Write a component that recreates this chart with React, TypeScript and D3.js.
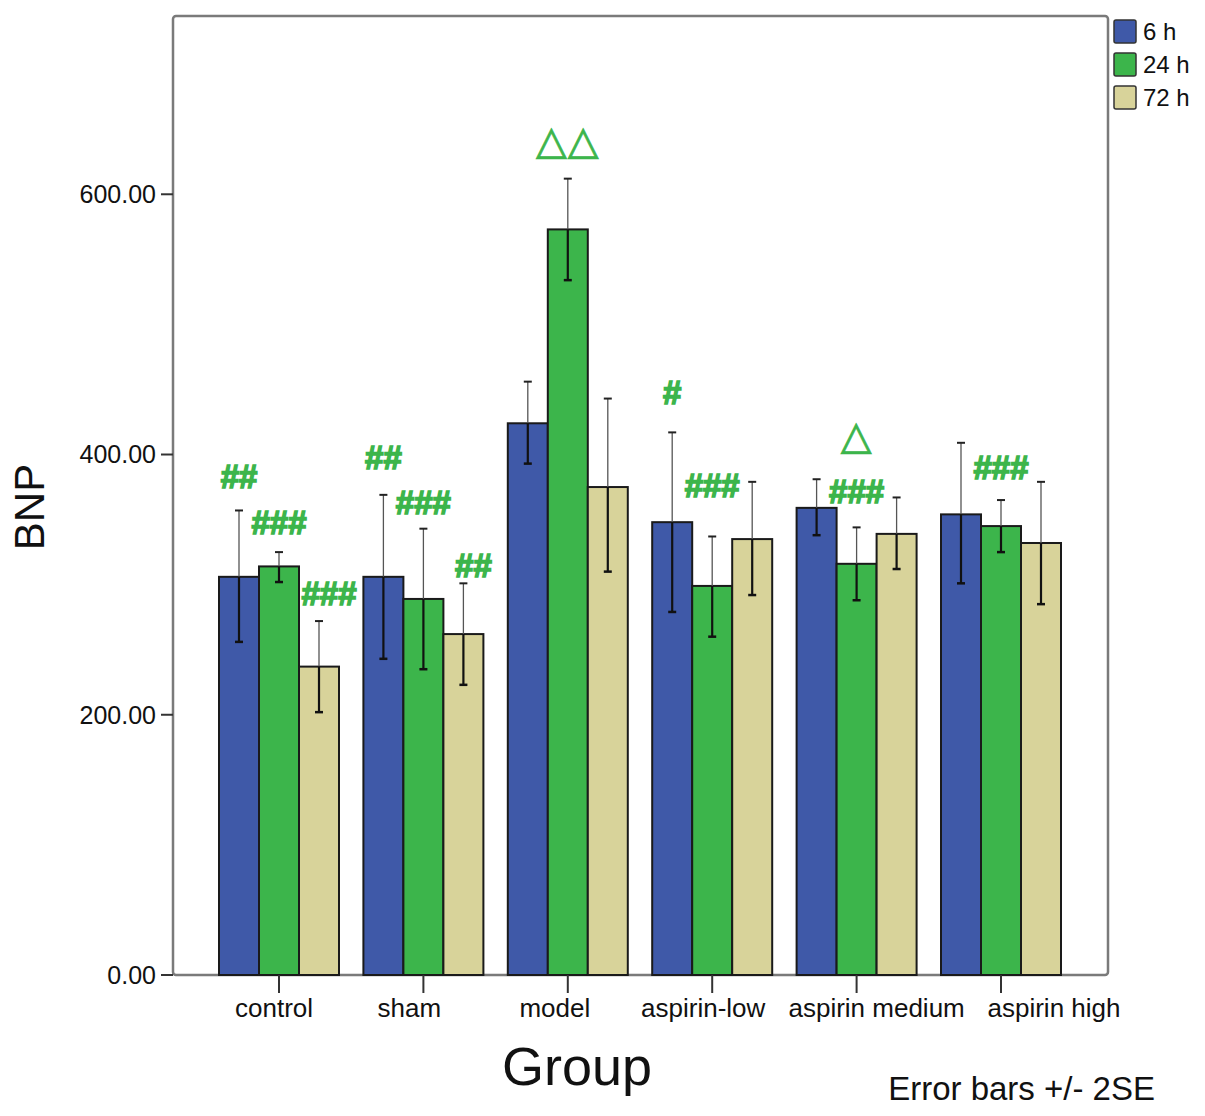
import React from "react";
import * as d3 from "d3";

const groups = ["control", "sham", "model", "aspirin-low", "aspirin medium", "aspirin high"];
const seriesNames = ["6 h", "24 h", "72 h"];
const seriesColors = ["#3f59a8", "#3cb54b", "#d8d39a"];

// mean, lower, upper for each group (6 h, 24 h, 72 h)
const mean6h = [306, 306, 424, 348, 359, 354];
const low6h = [256, 243, 393, 279, 338, 301];
const high6h = [357, 369, 456, 417, 381, 409];
const mean24h = [314, 289, 573, 299, 316, 345];
const low24h = [302, 235, 534, 260, 288, 325];
const high24h = [325, 343, 612, 337, 344, 365];
const mean72h = [237, 262, 375, 335, 339, 332];
const low72h = [202, 223, 310, 292, 312, 285];
const high72h = [272, 301, 443, 379, 367, 379];

const yTicks = [0, 200, 400, 600];

// significance marks: group, series, label, value at the label baseline
const marks = [
  {g: "control", s: 0, label: "##", v: 374},
  {g: "control", s: 1, label: "###", v: 339},
  {g: "control", s: 2, label: "###", v: 284},
  {g: "sham", s: 0, label: "##", v: 389},
  {g: "sham", s: 1, label: "###", v: 354},
  {g: "sham", s: 2, label: "##", v: 306},
  {g: "model", s: 1, label: "\u25b3\u25b3", v: 631},
  {g: "aspirin-low", s: 0, label: "#", v: 439},
  {g: "aspirin-low", s: 1, label: "###", v: 367},
  {g: "aspirin medium", s: 1, label: "\u25b3", v: 404},
  {g: "aspirin medium", s: 1, label: "###", v: 363},
  {g: "aspirin high", s: 1, label: "###", v: 381},
];

const App: React.FC = () => {
  const width = 1205;
  const height = 1116;
  const left = 173, top = 16, right = 1108, bottom = 975;
  const innerW = right - left;

  const means = [mean6h, mean24h, mean72h];
  const lows = [low6h, low24h, low72h];
  const highs = [high6h, high24h, high72h];

  const y = d3.scaleLinear().domain([0, 737]).range([bottom, top]);
  const x = d3.scalePoint<string>().domain(groups).range([left + 106, left + 828]);
  const barW = 40;
  const sx = d3.scaleBand<number>().domain([0, 1, 2]).range([-60, 60]);
  // category labels are nudged sideways so the long names do not collide
  const labelShift = [-5, -14, -13, -9, 20, 53];

  const font = "Liberation Sans, Arial, sans-serif";

  return (
    <svg width={width} height={height} style={{position: "absolute", left: 0, top: 0, background: "#fff"}}>
      {/* plot frame */}
      <rect x={left} y={top} width={innerW} height={bottom - top} rx={3} fill="#fff" stroke="#7a7a7a" strokeWidth={2.5}/>

      {/* bars */}
      {groups.map((g, gi) => (
        <g key={g}>
          {seriesNames.map((s, si) => {
            const x0 = x(g)! + sx(si)!;
            return (
              <rect key={s} x={x0} y={y(means[si][gi])} width={barW} height={bottom - y(means[si][gi])}
                    fill={seriesColors[si]} stroke="#1a1a1a" strokeWidth={2}/>
            );
          })}
        </g>
      ))}

      {/* error bars */}
      {groups.map((g, gi) => (
        <g key={g + "err"}>
          {seriesNames.map((s, si) => {
            const cx = x(g)! + sx(si)! + barW / 2;
            const yt = y(highs[si][gi]);
            const yb = y(lows[si][gi]);
            const ym = y(means[si][gi]);
            return (
              <g key={s}>
                <line x1={cx} x2={cx} y1={yt} y2={ym} stroke="#555" strokeWidth={1.3}/>
                <line x1={cx} x2={cx} y1={ym} y2={yb} stroke="#111" strokeWidth={2.2}/>
                <line x1={cx - 4} x2={cx + 4} y1={yt} y2={yt} stroke="#222" strokeWidth={2}/>
                <line x1={cx - 4} x2={cx + 4} y1={yb} y2={yb} stroke="#111" strokeWidth={2.5}/>
              </g>
            );
          })}
        </g>
      ))}

      {/* significance marks */}
      {marks.map((m, i) => {
        const isDelta = m.label.startsWith("\u25b3");
        const cx = x(m.g)! + sx(m.s)! + barW / 2 + (m.s === 2 ? 10 : 0);
        return isDelta ? (
          <text key={i} x={cx} y={y(m.v)} textAnchor="middle" fontFamily="DejaVu Sans"
                fontSize={40} fill="#3cb54b" stroke="#3cb54b" strokeWidth={0.8} letterSpacing={1}>
            {m.label}
          </text>
        ) : (
          <text key={i} x={cx} y={y(m.v)} textAnchor="middle" fontFamily={font}
                fontSize={33} fontWeight="bold" fill="#3cb54b" stroke="#3cb54b" strokeWidth={1.5}
                letterSpacing={0}>
            {m.label}
          </text>
        );
      })}

      {/* y axis */}
      {yTicks.map(t => (
        <g key={t} transform={`translate(${left}, ${y(t)})`}>
          <line x1={-12} x2={0} stroke="#333" strokeWidth={2}/>
          <text x={-17} dy="0.35em" textAnchor="end" fontFamily={font} fontSize={25} fill="#111">
            {t.toFixed(2)}
          </text>
        </g>
      ))}

      {/* x axis */}
      {groups.map((g, gi) => (
        <g key={g + "tick"} transform={`translate(${x(g)}, ${bottom})`}>
          <line y1={0} y2={18} stroke="#333" strokeWidth={2}/>
          <text x={labelShift[gi]} y={42} textAnchor="middle" fontFamily={font} fontSize={26} fill="#111">{g}</text>
        </g>
      ))}

      {/* axis titles */}
      <text transform={`translate(44, 507) rotate(-90)`} textAnchor="middle"
            fontFamily={font} fontSize={42} fill="#111">BNP</text>
      <text x={577} y={1085} textAnchor="middle" fontFamily={font} fontSize={54} fill="#111">Group</text>
      <text x={1155} y={1100} textAnchor="end" fontFamily={font} fontSize={33} fill="#111">Error bars +/- 2SE</text>

      {/* legend */}
      {seriesNames.map((s, i) => (
        <g key={s} transform={`translate(1114, ${20 + i * 33})`}>
          <rect width={22} height={23} rx={2} fill={seriesColors[i]} stroke="#333" strokeWidth={1.5}/>
          <text x={29} y={20} fontFamily={font} fontSize={24} fill="#111">{s}</text>
        </g>
      ))}
    </svg>
  );
};

export default App;
